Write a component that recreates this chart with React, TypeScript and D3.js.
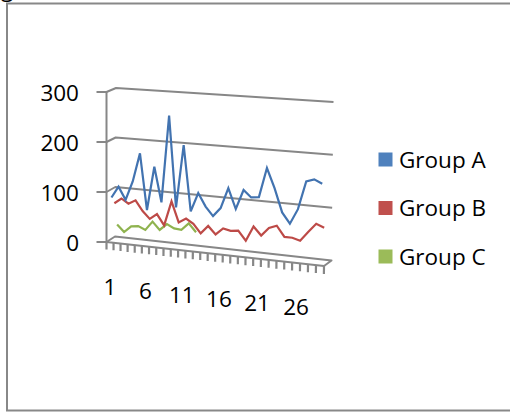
import React from 'react';
import * as d3 from 'd3';

const categories = [1, 2, 3, 4, 5, 6, 7, 8, 9, 10, 11, 12, 13, 14, 15, 16, 17, 18, 19, 20, 21, 22, 23, 24, 25, 26, 27, 28, 29];
const groupA = [88, 111, 86, 124, 181, 70, 157, 88, 260, 81, 204, 76, 113, 88, 71, 88, 128, 89, 127, 114, 116, 173, 136, 91, 71, 100, 154, 159, 152];
const groupB = [73, 84, 75, 83, 63, 49, 60, 39, 88, 48, 57, 48, 31, 47, 32, 45, 42, 44, 26, 55, 39, 55, 61, 41, 41, 37, 55, 72, 66];
const groupC = [27, 13, 26, 28, 22, 40, 25, 38, 31, 30, 44, 28];
const seriesNames = ['Group A', 'Group B', 'Group C'];
const seriesColors = ['#4f81bd', '#c0504d', '#9bbb59'];
const lineColors = ['#4273b0', '#bd4a47', '#8fb34f'];
const seriesDepths = [1 / 6, 1 / 2, 5 / 6];
const yTicks = [0, 100, 200, 300];
const xLabelStep = 5;

type Pt = [number, number];
const lerp = (a: Pt, b: Pt, t: number): Pt => [a[0] + (b[0] - a[0]) * t, a[1] + (b[1] - a[1]) * t];

export default function App() {
  const n = categories.length;
  const uScale = d3.scaleLinear().domain([0, n]).range([0, 1]);
  const vScale = d3.scaleLinear().domain([0, 300]).range([0, 1]);
  const m = 0.9325;
  const warp = (u: number) => (m * u) / (1 + (m - 1) * u);
  // projected corners of the plot box
  const FLB: Pt = [106.5, 242], FRB: Pt = [324, 266], FLT: Pt = [106.5, 92], FRT: Pt = [326, 106];
  const BLB: Pt = [115, 236.5], BRB: Pt = [331.5, 260.5], BLT: Pt = [116, 88], BRT: Pt = [333.5, 102];
  const face = (LB: Pt, RB: Pt, LT: Pt, RT: Pt, u: number, v: number): Pt => lerp(lerp(LB, RB, u), lerp(LT, RT, u), v);
  const P = (i: number, val: number, w: number): Pt => {
    const u = warp(uScale(i));
    const v = vScale(val);
    return lerp(face(FLB, FRB, FLT, FRT, u, v), face(BLB, BRB, BLT, BRT, u, v), w);
  };
  const line = d3.line<Pt>().x(d => d[0]).y(d => d[1]);
  const series = [groupA, groupB, groupC];
  const grid = '#878787';
  const font = "'Open Sans', sans-serif";

  return (
    <svg width={510} height={412} style={{ position: 'absolute', left: 0, top: 0 }}>
      <rect x={0} y={0} width={510} height={412} fill="#fff" />
      <text x={1} y={-3} fontFamily={font} fontSize={22.5} fill="#000">g</text>
      <rect x={7} y={3.5} width={530} height={407} fill="#fff" stroke="#888" strokeWidth={2} />
      {/* value gridlines with side-wall edges */}
      {yTicks.map(t => {
        const f = P(0, t, 0);
        const pts: Pt[] = t === 0
          ? [[f[0] - 10, f[1]], f, P(0, t, 1), P(n, t, 1), P(n, t, 0), f]
          : [[f[0] - 10, f[1]], f, P(0, t, 1), P(n, t, 1)];
        return <path key={t} d={line(pts) || ''} fill="none" stroke={grid} strokeWidth={2} strokeLinejoin="round" />;
      })}
      {/* vertical axis */}
      <path d={line([P(0, 0, 0), P(0, 300, 0)]) || ''} stroke={grid} strokeWidth={2} />
      {/* category ticks */}
      {d3.range(n + 1).map(k => (
        <path key={k} d={line([P(k, 0, 0), P(k, -15, 0)]) || ''} stroke={grid} strokeWidth={2.2} />
      ))}
      {/* series lines, back to front */}
      {[2, 1, 0].map(s => {
        const pts: Pt[] = series[s].map((v, i) => P(i + 0.5, v, seriesDepths[s]));
        return <path key={s} d={line(pts) || ''} fill="none" stroke={lineColors[s]} strokeWidth={2.2} strokeLinejoin="miter" />;
      })}
      {/* y labels */}
      {yTicks.map(t => {
        const f = P(0, t, 0);
        return <text key={t} x={79} y={f[1] + 8.5} textAnchor="end" fontFamily={font} fontSize={22.5} fill="#000">{t}</text>;
      })}
      {/* x labels */}
      {categories.map((c, i) => {
        if (i % xLabelStep !== 0) return null;
        const f = P(i + 0.5, 0, 0);
        return <text key={c} x={f[0]} y={f[1] + 52.3} textAnchor="middle" fontFamily={font} fontSize={22.5} fill="#000">{c}</text>;
      })}
      {/* legend */}
      {seriesNames.map((name, s) => (
        <g key={name} transform={`translate(378.5, ${152.5 + s * 48.5})`}>
          <rect x={0} y={0} width={14} height={14} fill={seriesColors[s]} />
          <text x={20.5} y={15} fontFamily={font} fontSize={22.5} fill="#000">{name}</text>
        </g>
      ))}
    </svg>
  );
}
